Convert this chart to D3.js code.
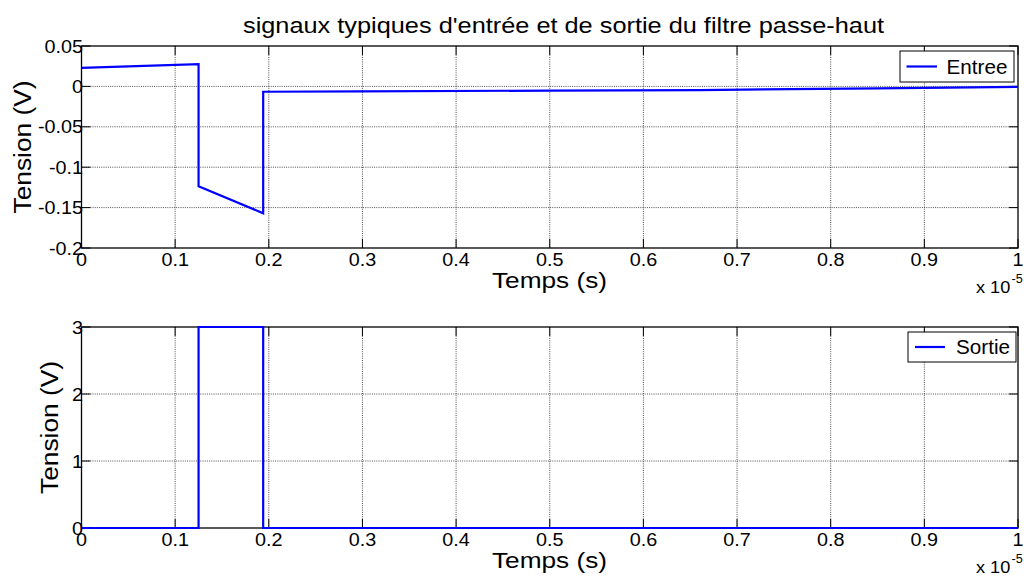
<!DOCTYPE html>
<html><head><meta charset="utf-8">
<script src="https://cdn.jsdelivr.net/npm/d3@7"></script>
<style>body{margin:0;background:#fff}text{font-family:"Liberation Sans",Arial,sans-serif;fill:#000}</style>
</head><body><svg id="c" width="1030" height="577"></svg>
<script>
const title = "signaux typiques d'entrée et de sortie du filtre passe-haut";
const xTicks = [0,0.1,0.2,0.3,0.4,0.5,0.6,0.7,0.8,0.9,1];
const xTickLabels = ["0","0.1","0.2","0.3","0.4","0.5","0.6","0.7","0.8","0.9","1"];
const entreeTicks = [-0.2,-0.15,-0.1,-0.05,0,0.05];
const entreeTickLabels = ["-0.2","-0.15","-0.1","-0.05","0","0.05"];
const sortieTicks = [0,1,2,3];
const sortieTickLabels = ["0","1","2","3"];
// time in units of 1e-5 s
const entreeT = [0, 0.125, 0.125, 0.194, 0.194, 0.3, 0.5, 0.66, 0.85, 1.0];
const entreeV = [0.023, 0.0275, -0.1235, -0.157, -0.0066, -0.0062, -0.0052, -0.0045, -0.0025, -0.0005];
const sortieT = [0, 0.125, 0.125, 0.194, 0.194, 1.0];
const sortieV = [0, 0, 3, 3, 0, 0];

const svg = d3.select("#c");
const L = 81.5, R = 1018;
const x = d3.scaleLinear().domain([0,1]).range([L,R]);

function txt(parent, px, py, str, size, anchor, stretch, fixedLen){
  const t = parent.append("text").attr("x",px).attr("y",py).attr("text-anchor",anchor||"start")
    .style("font-size",size+"px").text(str);
  const len = t.node().getComputedTextLength();
  const target = fixedLen || len*(stretch||1);
  t.attr("textLength",target).attr("lengthAdjust","spacingAndGlyphs");
  return t;
}

txt(svg, 563.5, 33, title, 22, "middle", 1, 641);

function panel(top, bottom, yDomain, yTicks, yLabels, T, V, legendName, legendBox, lineSample, ylabX){
  const y = d3.scaleLinear().domain(yDomain).range([bottom, top]);
  const g = svg.append("g");
  xTicks.forEach(t => { if(t>0 && t<1) g.append("line").attr("x1",x(t)).attr("x2",x(t)).attr("y1",top).attr("y2",bottom)
    .attr("stroke","#222").attr("stroke-width",0.8).attr("stroke-dasharray","1,1.2"); });
  yTicks.forEach(v => { if(v>yDomain[0] && v<yDomain[1]) g.append("line").attr("x1",L).attr("x2",R).attr("y1",y(v)).attr("y2",y(v))
    .attr("stroke","#222").attr("stroke-width",0.8).attr("stroke-dasharray","1,1.2"); });
  const tl = 9;
  xTicks.forEach(t => {
    g.append("line").attr("x1",x(t)).attr("x2",x(t)).attr("y1",bottom).attr("y2",bottom-tl).attr("stroke","#000");
    g.append("line").attr("x1",x(t)).attr("x2",x(t)).attr("y1",top).attr("y2",top+tl).attr("stroke","#000");
  });
  yTicks.forEach(v => {
    g.append("line").attr("x1",L).attr("x2",L+tl).attr("y1",y(v)).attr("y2",y(v)).attr("stroke","#000");
    g.append("line").attr("x1",R).attr("x2",R-tl).attr("y1",y(v)).attr("y2",y(v)).attr("stroke","#000");
  });
  g.append("rect").attr("x",L).attr("y",top).attr("width",R-L).attr("height",bottom-top)
    .attr("fill","none").attr("stroke","#000").attr("stroke-width",1.3);
  xTicks.forEach((t,i) => txt(g, x(t), bottom+18, xTickLabels[i], 17.5, "middle", 1.13));
  yTicks.forEach((v,i) => txt(g, L+1.5, y(v)+6.5, yLabels[i], 17.5, "end", 1.13));
  txt(g, 549.5, bottom+40, "Temps (s)", 21.5, "middle", 1, 115);
  const yl = g.append("g").attr("transform",`translate(${ylabX},${(top+bottom)/2}) rotate(-90)`);
  txt(yl, 0, 0, "Tension (V)", 23, "middle", 1, 133);
  txt(g, 976, bottom+45, "x 10", 16.5, "start", 1.1);
  txt(g, 1011.5, bottom+34.5, "-5", 12, "start", 1.05);
  const line = d3.line().x(d=>x(d[0])).y(d=>y(d[1]));
  g.append("path").datum(T.map((t,i)=>[t,V[i]])).attr("d",line).attr("fill","none")
    .attr("stroke","#0000ff").attr("stroke-width",2.2);
  const [bx,by,bw,bh] = legendBox;
  g.append("rect").attr("x",bx).attr("y",by).attr("width",bw).attr("height",bh).attr("fill","#fff").attr("stroke","#000").attr("stroke-width",1);
  g.append("line").attr("x1",lineSample[0]).attr("x2",lineSample[1]).attr("y1",by+bh/2).attr("y2",by+bh/2).attr("stroke","#0000ff").attr("stroke-width",2.2);
  txt(g, lineSample[2], by+bh/2+7, legendName, 19.5, "start", 1.06);
}
panel(46, 248, [-0.2,0.05], entreeTicks, entreeTickLabels, entreeT, entreeV, "Entree", [900,51,114,31], [906.5,937,946.5], 31);
panel(327, 528, [0,3], sortieTicks, sortieTickLabels, sortieT, sortieV, "Sortie", [908,332,108,30], [915,945,956], 58);
</script></body></html>
